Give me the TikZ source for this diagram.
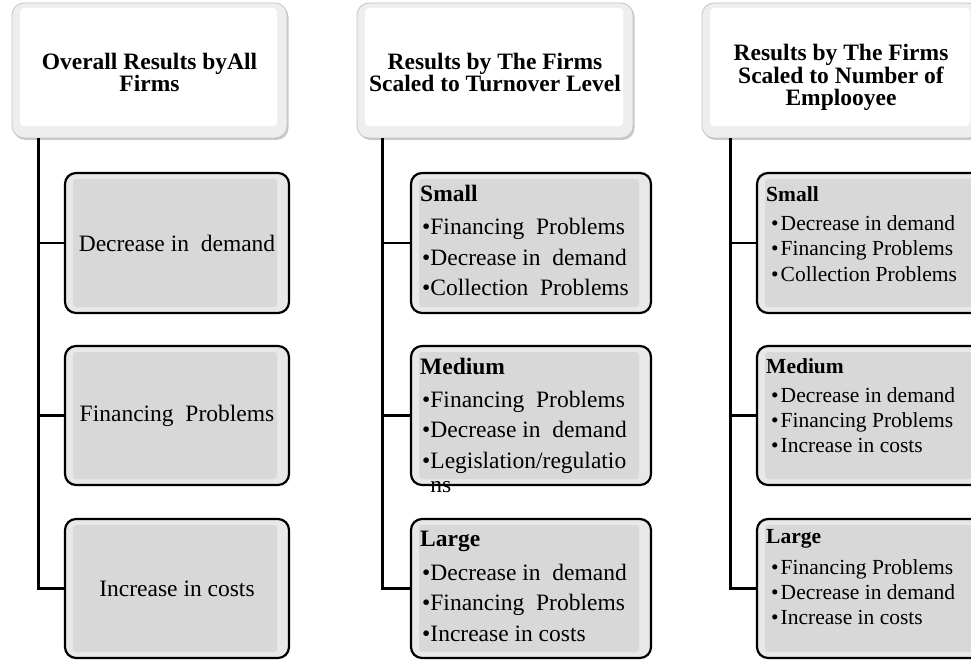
\documentclass[tikz,border=0pt]{standalone}
\usepackage{fontspec}
\setmainfont{Liberation Serif}
\usetikzlibrary{shadows,calc}
\definecolor{boxgray}{RGB}{216,216,216}
\definecolor{boxbevel}{RGB}{232,232,232}
\definecolor{hdrbevel}{RGB}{238,238,238}
\definecolor{hdrline}{RGB}{196,196,196}
\begin{document}
\begin{tikzpicture}[x=1pt,y=-1pt,
  hdrbox/.style={draw=hdrline, line width=0.8pt, rounded corners=12pt, fill=hdrbevel,
    drop shadow={shadow xshift=1.5pt, shadow yshift=-2pt, opacity=0.35, fill=black!60},
    inner sep=0pt,
    path picture={\fill[white, rounded corners=4pt]
      ([shift={(8,5)}]path picture bounding box.north west) rectangle
      ([shift={(-10,-12)}]path picture bounding box.south east);}},
  hdrtext/.style={inner sep=0pt, align=center, font=\fontsize{23.5}{22.5}\selectfont\bfseries},
  childbox/.style={draw=black, line width=2.2pt, rounded corners=11pt, fill=boxbevel,
    inner sep=0pt, align=center, font=\fontsize{23.5}{28}\selectfont,
    path picture={\fill[boxgray, rounded corners=3pt]
      ([shift={(8,6)}]path picture bounding box.north west) rectangle
      ([shift={(-12,-6)}]path picture bounding box.south east);}},
  listtwo/.style={inner sep=0pt, anchor=base west, font=\fontsize{23.5}{30.5}\selectfont},
  listthree/.style={inner sep=0pt, anchor=base west, font=\fontsize{21.5}{25.3}\selectfont},
  conn/.style={draw=black, line width=2.4pt}
]
\useasboundingbox (0,0) rectangle (971,663);
\clip (0,0) rectangle (971,663);
\fill[white] (0,0) rectangle (971,663);

% headers
\node[hdrbox, minimum width=275pt, minimum height=135pt] (h1) at (149.5,70.5) {};
\node[hdrbox, minimum width=276pt, minimum height=135pt] (h2) at (495,70.5) {};
\node[hdrbox, minimum width=278pt, minimum height=135pt] (h3) at (841,70.5) {};
\node[hdrtext] (h1t) at ($(h1.center)+(0,2)$) {Overall Results byAll\\Firms};
\node[hdrtext] (h2t) at ($(h2.center)+(0,2)$) {Results by The Firms\\Scaled to Turnover Level};
\node[hdrtext] (h3t) at ($(h3.center)+(0,7)$) {Results by The Firms\\Scaled to Number of\\Emplooyee};

% connectors
\draw[conn] ($(h1.south west)+(27,0)$) |- (177,588.5);
\draw[conn] ($(h2.south west)+(26,0)$) |- (531,588.5);
\draw[conn] ($(h3.south west)+(29,0)$) |- (871,588.5);

% column 1 children
\node[childbox, minimum width=224pt, minimum height=140pt] (c11) at (177,243) {Decrease in\ \ demand};
\node[childbox, minimum width=224pt, minimum height=139pt] (c12) at (177,415.5) {Financing\ \ Problems};
\node[childbox, minimum width=224pt, minimum height=139pt] (c13) at (177,588.5) {Increase in costs};

% column 2 children
\node[childbox, minimum width=240pt, minimum height=140pt] (c21) at (531,243) {};
\node[childbox, minimum width=240pt, minimum height=139pt] (c22) at (531,415.5) {};
\node[childbox, minimum width=240pt, minimum height=139pt] (c23) at (531,588.5) {};

% column 3 children
\node[childbox, minimum width=228pt, minimum height=140pt] (c31) at (871,243) {};
\node[childbox, minimum width=228pt, minimum height=139pt] (c32) at (871,415.5) {};
\node[childbox, minimum width=228pt, minimum height=139pt] (c33) at (871,588.5) {};

% side branches
\draw[conn] (c11.west) -- ++(-26,0);
\draw[conn] (c12.west) -- ++(-26,0);
\draw[conn] (c13.west) -- ++(-26,0);
\draw[conn] (c21.west) -- ++(-28,0);
\draw[conn] (c22.west) -- ++(-28,0);
\draw[conn] (c23.west) -- ++(-28,0);
\draw[conn] (c31.west) -- ++(-26,0);
\draw[conn] (c32.west) -- ++(-26,0);
\draw[conn] (c33.west) -- ++(-26,0);

% column 2 texts
\node[listtwo] (t21) at (420,201.5) {\begin{tabular}[t]{@{}l@{}}\textbf{Small}\\[2.5pt]
  \hspace{2pt}\textbullet{}Financing\ \ Problems\\
  \hspace{2pt}\textbullet{}Decrease in\ \ demand\\
  \hspace{2pt}\textbullet{}Collection\ \ Problems\end{tabular}};
\node[listtwo] (t22) at (420,374) {\begin{tabular}[t]{@{}l@{}}\textbf{Medium}\\[2.5pt]
  \hspace{2pt}\textbullet{}Financing\ \ Problems\\
  \hspace{2pt}\textbullet{}Decrease in\ \ demand\\
  \hspace{2pt}\textbullet{}Legislation/regulatio\\[-6.5pt]
  \hspace{2pt}\phantom{\textbullet}ns\end{tabular}};
\node[listtwo] (t23) at (420,546.5) {\begin{tabular}[t]{@{}l@{}}\textbf{Large}\\[3pt]
  \hspace{2pt}\textbullet{}Decrease in\ \ demand\\
  \hspace{2pt}\textbullet{}Financing\ \ Problems\\
  \hspace{2pt}\textbullet{}Increase in costs\end{tabular}};

% column 3 texts
\node[listthree] (t31) at (766,201.7) {\begin{tabular}[t]{@{}l@{}}\textbf{Small}\\[3.5pt]
  \hspace{5pt}\textbullet\hspace{2pt}Decrease in demand\\
  \hspace{5pt}\textbullet\hspace{2pt}Financing Problems\\
  \hspace{5pt}\textbullet\hspace{2pt}Collection Problems\end{tabular}};
\node[listthree] (t32) at (766,373) {\begin{tabular}[t]{@{}l@{}}\textbf{Medium}\\[4pt]
  \hspace{5pt}\textbullet\hspace{2pt}Decrease in demand\\
  \hspace{5pt}\textbullet\hspace{2pt}Financing Problems\\
  \hspace{5pt}\textbullet\hspace{2pt}Increase in costs\end{tabular}};
\node[listthree] (t33) at (766,543) {\begin{tabular}[t]{@{}l@{}}\textbf{Large}\\[6pt]
  \hspace{5pt}\textbullet\hspace{2pt}Financing Problems\\
  \hspace{5pt}\textbullet\hspace{2pt}Decrease in demand\\
  \hspace{5pt}\textbullet\hspace{2pt}Increase in costs\end{tabular}};
\end{tikzpicture}
\end{document}
